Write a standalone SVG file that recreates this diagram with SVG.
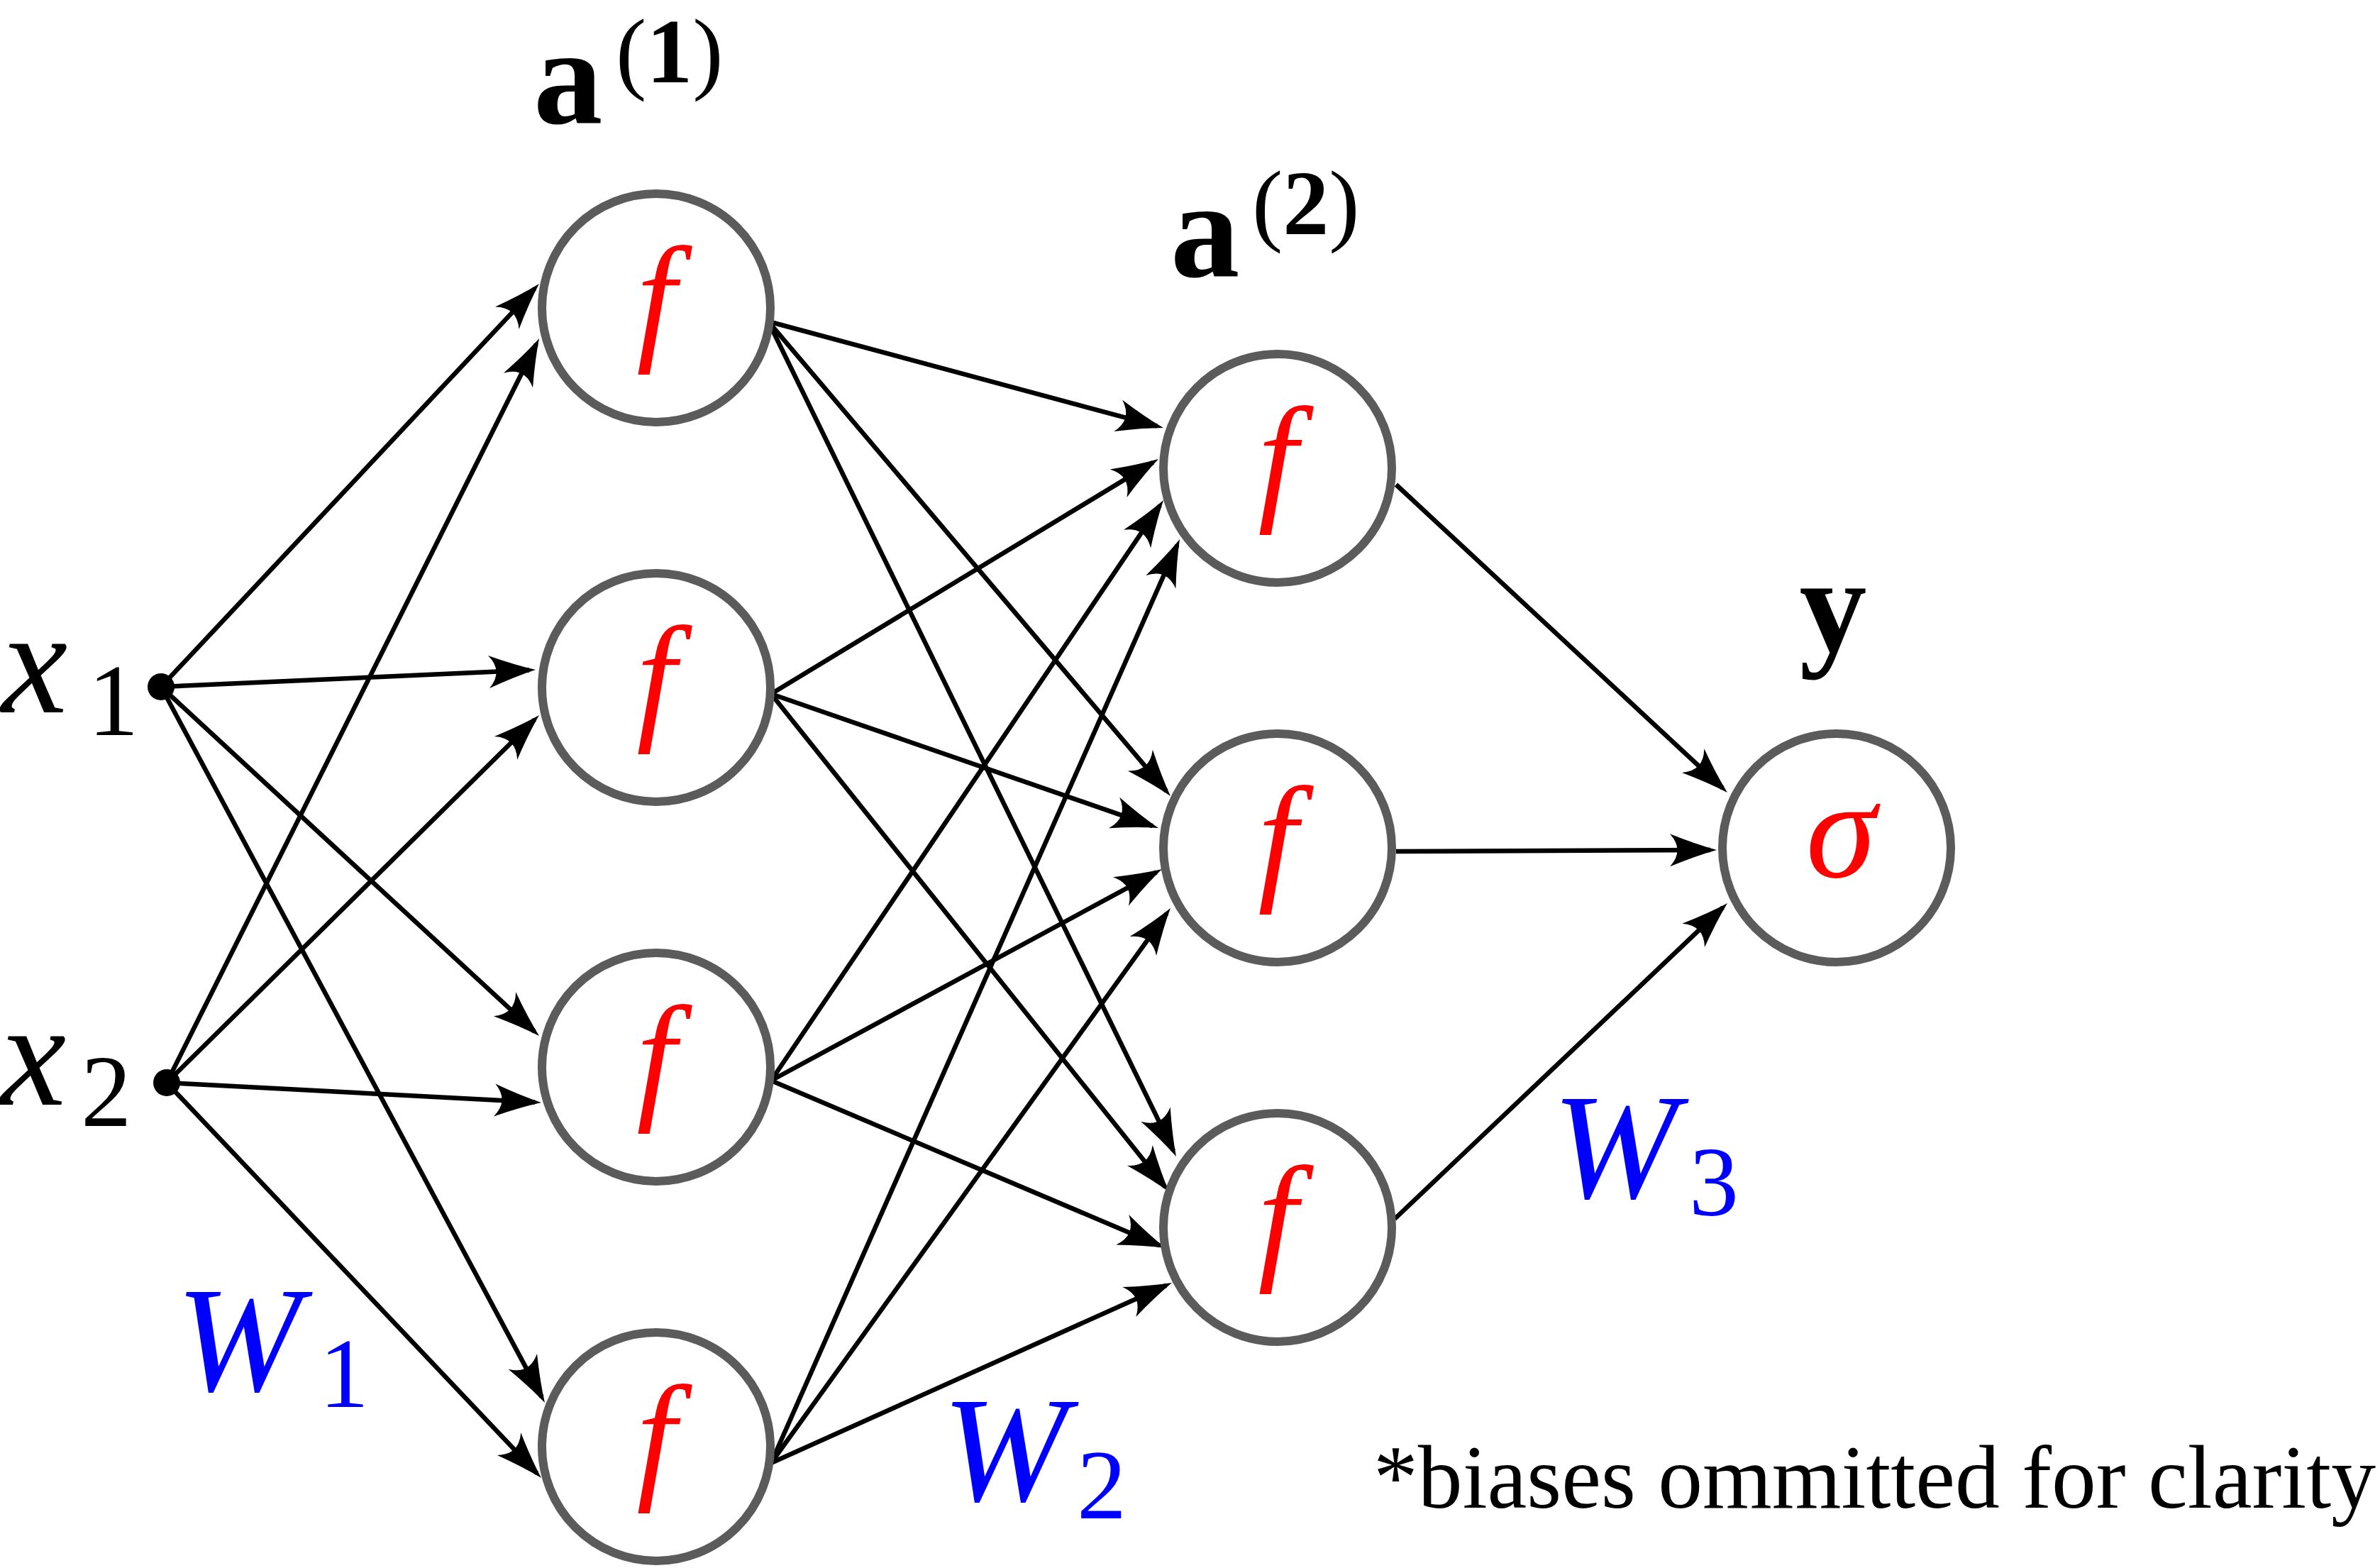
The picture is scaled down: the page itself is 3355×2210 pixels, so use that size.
<svg xmlns="http://www.w3.org/2000/svg" width="3355" height="2210" viewBox="0 0 3355 2210">
<style>
.e{stroke:#000;stroke-width:6.5;fill:none;marker-end:url(#ah)}
.n{fill:#fff;stroke:#5b5b5b;stroke-width:12}
.fn{font-family:"Liberation Serif","Times New Roman",serif;font-style:italic;font-size:200px;fill:#ff0000;text-anchor:middle}
.lbl{font-family:"Liberation Serif","Times New Roman",serif;fill:#000}
.w{font-family:"Liberation Serif","Times New Roman",serif;fill:#0000ff}
</style>
<defs>
<marker id="ah" markerUnits="userSpaceOnUse" viewBox="-65 -28 80 56" markerWidth="80" markerHeight="56" refX="0" refY="0" orient="auto" overflow="visible">
<path d="M9,0 Q-20,-8 -57,-23 Q-36,0 -57,23 Q-20,8 9,0 Z" fill="#000"/>
</marker>
</defs>
<rect width="3355" height="2210" fill="#fff"/>
<g id="connectors">
<path class="e" d="M227,968 L753.8,406.6"/>
<path class="e" d="M227,968 L746,944.4"/>
<path class="e" d="M227,968 L753.4,1453.9"/>
<path class="e" d="M227,968 L763.7,1969.1"/>
<path class="e" d="M235,1526 L756,485"/>
<path class="e" d="M235,1526 L753.6,1014.3"/>
<path class="e" d="M235,1526 L754,1553.5"/>
<path class="e" d="M235,1526 L756.8,2076.5"/>
<path class="e" d="M1083,453 L1631.3,600.7"/>
<path class="e" d="M1083,453 L1644.2,1115.1"/>
<path class="e" d="M1083,453 L1654,1621.9"/>
<path class="e" d="M1087,978 L1625.3,651.7"/>
<path class="e" d="M1087,978 L1624.5,1164.1"/>
<path class="e" d="M1087,978 L1642.4,1673"/>
<path class="e" d="M1087,1523 L1635,712.5"/>
<path class="e" d="M1087,1523 L1630.1,1229.3"/>
<path class="e" d="M1087,1523 L1634.7,1755.5"/>
<path class="e" d="M1087,2062 L1659.4,768.2"/>
<path class="e" d="M1087,2062 L1644.7,1287.3"/>
<path class="e" d="M1087,2062 L1643.8,1811.7"/>
<path class="e" d="M1968,683 L2428.4,1110.9"/>
<path class="e" d="M1968,1200 L2411,1198"/>
<path class="e" d="M1966,1718 L2428.5,1279.2"/>
</g>
<g id="x1">
<circle cx="227" cy="968" r="19" fill="#000"/>
<text class="lbl" x="2" y="1004" font-size="210" font-style="italic">x</text>
<text class="lbl" x="124" y="1036" font-size="143">1</text>
</g>
<g id="x2">
<circle cx="235" cy="1526" r="19" fill="#000"/>
<text class="lbl" x="0" y="1557" font-size="210" font-style="italic">x</text>
<text class="lbl" x="114" y="1587" font-size="143">2</text>
</g>
<g id="h1_1"><circle class="n" cx="925" cy="434" r="161"/><text class="fn" x="925" y="486">f</text></g>
<g id="h1_2"><circle class="n" cx="925" cy="969" r="161"/><text class="fn" x="925" y="1021">f</text></g>
<g id="h1_3"><circle class="n" cx="925" cy="1504" r="161"/><text class="fn" x="925" y="1556">f</text></g>
<g id="h1_4"><circle class="n" cx="925" cy="2039" r="161"/><text class="fn" x="925" y="2091">f</text></g>
<g id="h2_1"><circle class="n" cx="1801" cy="660" r="161"/><text class="fn" x="1801" y="712">f</text></g>
<g id="h2_2"><circle class="n" cx="1801" cy="1195" r="161"/><text class="fn" x="1801" y="1247">f</text></g>
<g id="h2_3"><circle class="n" cx="1801" cy="1730" r="161"/><text class="fn" x="1801" y="1782">f</text></g>
<g id="out"><circle class="n" cx="2589" cy="1195" r="161"/><text class="fn" x="2595" y="1236" font-size="210">σ</text></g>
<g id="label_a1">
<text class="lbl" x="752" y="174" font-size="195" font-weight="bold">a</text>
<text class="lbl" x="868" y="116" font-size="130">(<tspan font-weight="bold">1</tspan>)</text>
</g>
<g id="label_a2">
<text class="lbl" x="1650" y="390" font-size="195" font-weight="bold">a</text>
<text class="lbl" x="1765" y="330" font-size="130">(<tspan font-weight="bold">2</tspan>)</text>
</g>
<g id="label_y">
<text class="lbl" x="2584" y="917" font-size="190" font-weight="bold" text-anchor="middle">y</text>
</g>
<g id="label_W1">
<text class="w" x="248" y="1960" font-size="212" font-style="italic">W</text>
<text class="w" x="450" y="1983" font-size="140">1</text>
</g>
<g id="label_W2">
<text class="w" x="1328" y="2115" font-size="212" font-style="italic">W</text>
<text class="w" x="1518" y="2140" font-size="140">2</text>
</g>
<g id="label_W3">
<text class="w" x="2188" y="1688" font-size="212" font-style="italic">W</text>
<text class="w" x="2381" y="1713" font-size="140">3</text>
</g>
<g id="note">
<text class="lbl" x="1936" y="2125" font-size="126" textLength="1413" lengthAdjust="spacingAndGlyphs">*biases ommitted for clarity</text>
</g>
</svg>
